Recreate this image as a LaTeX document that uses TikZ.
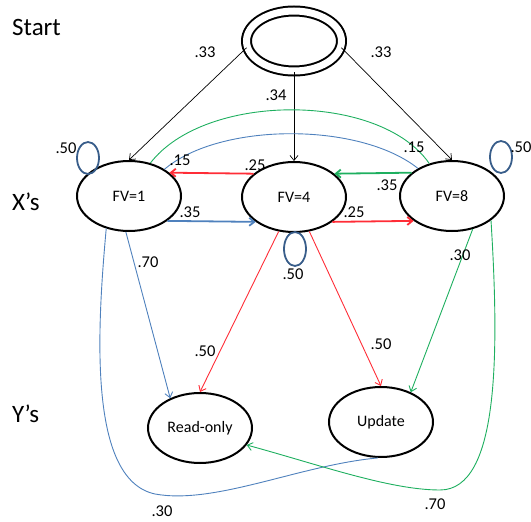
\documentclass[tikz,border=0pt]{standalone}
\usepackage{fontspec}
\setmainfont{Carlito}
\usetikzlibrary{shapes.geometric,arrows.meta}

\definecolor{lineblue}{RGB}{79,129,189}
\definecolor{loopblue}{RGB}{56,93,138}
\definecolor{linered}{RGB}{255,45,55}
\definecolor{linegreen}{RGB}{30,175,95}

\tikzset{
  state/.style={draw,ellipse,line width=2pt,minimum width=104pt,minimum height=70pt,inner sep=0pt,font=\fontsize{16}{18}\selectfont},
  prob/.style={font=\fontsize{16.5}{18}\selectfont,inner sep=0pt},
  side/.style={font=\fontsize{25}{28}\selectfont,anchor=west,inner sep=0pt},
  bl/.style={lineblue,line width=0.9pt},
  rd/.style={linered,line width=0.9pt},
  gr/.style={linegreen,line width=0.9pt},
  loopc/.style={loopblue,line width=1.8pt}
}

\begin{document}
\begin{tikzpicture}[x=1pt,y=-1pt,>={Straight Barb[length=5pt,width=8pt]}]
        \useasboundingbox (0,0) rectangle (531,522);

        \node[side] (start) at (12,27) {Start};
        \node[side] (xs) at (12,202) {X’s};
        \node[side] (ys) at (12,414) {Y’s};

        \node[draw,ellipse,line width=2pt,double,double distance=7pt,minimum width=95pt,minimum height=60pt] (s0) at (294,41) {};

        \node[state] (fv1) at (129,196) {FV=1};
        \node[state] (fv4) at (294,197) {FV=4};
        \node[state] (fv8) at (452,196) {FV=8};
        \node[state] (ro) at (200,428) {Read-only};
        \node[state] (up) at (381,422) {Update};

        % start
        \draw[->,line width=0.7pt] (s0.188) -- (fv1.north);
        \draw[->,line width=0.7pt] (s0.south) -- (fv4.north);
        \draw[->,line width=0.7pt] (s0.-8) -- (fv8.north);
        \node[prob] (p1) at (205,52) {.33};
        \node[prob] (p2) at (276,95) {.34};
        \node[prob] (p3) at (381,52) {.33};

        % self loops
        \draw[loopc] (fv1) ++(-41,-38) ellipse (11 and 16);
        \draw[loopc] (fv4) ++(1,52) ellipse (11 and 17);
        \draw[loopc] (fv8) ++(49,-39) ellipse (11 and 16);
        \node[prob] (p4) at (66,148) {.50};
        \node[prob] (p5) at (293,274) {.50};
        \node[prob] (p6) at (521,147) {.50};

        % between the X's
        \draw[gr] (fv8.125) .. controls (380,92) and (205,92) .. (fv1.57);
        \draw[bl] (fv1.37) .. controls (220,122) and (360,122) .. (fv8.141);
        \draw[rd,line width=1.8pt,->] (fv4.150) -- (fv1.30);
        \draw[gr,line width=1.8pt,->] (fv8.150) -- (fv4.30);
        \draw[bl,line width=1.8pt,->] (fv1.-33) -- (fv4.-147);
        \draw[rd,line width=1.8pt,->] (fv4.-33) -- (fv8.-147);
        \node[prob] (p7) at (180,160) {.15};
        \node[prob] (p8) at (414,147) {.15};
        \node[prob] (p9) at (255,165) {.25};
        \node[prob] (p10) at (387,185) {.35};
        \node[prob] (p11) at (190,212) {.35};
        \node[prob] (p12) at (354,212) {.25};

        % X's to Y's
        \draw[bl,->] (fv1.-95) -- (ro.135);
        \draw[rd,->] (fv4.-114) -- (ro.north);
        \draw[rd,->] (fv4.-66) -- (up.north);
        \draw[gr,->] (fv8.-58) -- (up.45);
        \draw[bl] (fv1.-125) .. controls (96,340) and (90,480) .. (155,494) .. controls (215,505) and (300,465) .. (up.-95);
        \draw[gr,->] (fv8.-32) .. controls (499,350) and (500,490) .. (440,490) .. controls (390,490) and (320,465) .. (ro.-20);
        \node[prob] (p13) at (148,262) {.70};
        \node[prob] (p14) at (460,255) {.30};
        \node[prob] (p15) at (205,351) {.50};
        \node[prob] (p16) at (381,344) {.50};
        \node[prob] (p17) at (162,511) {.30};
        \node[prob] (p18) at (435,504) {.70};
\end{tikzpicture}
\end{document}
